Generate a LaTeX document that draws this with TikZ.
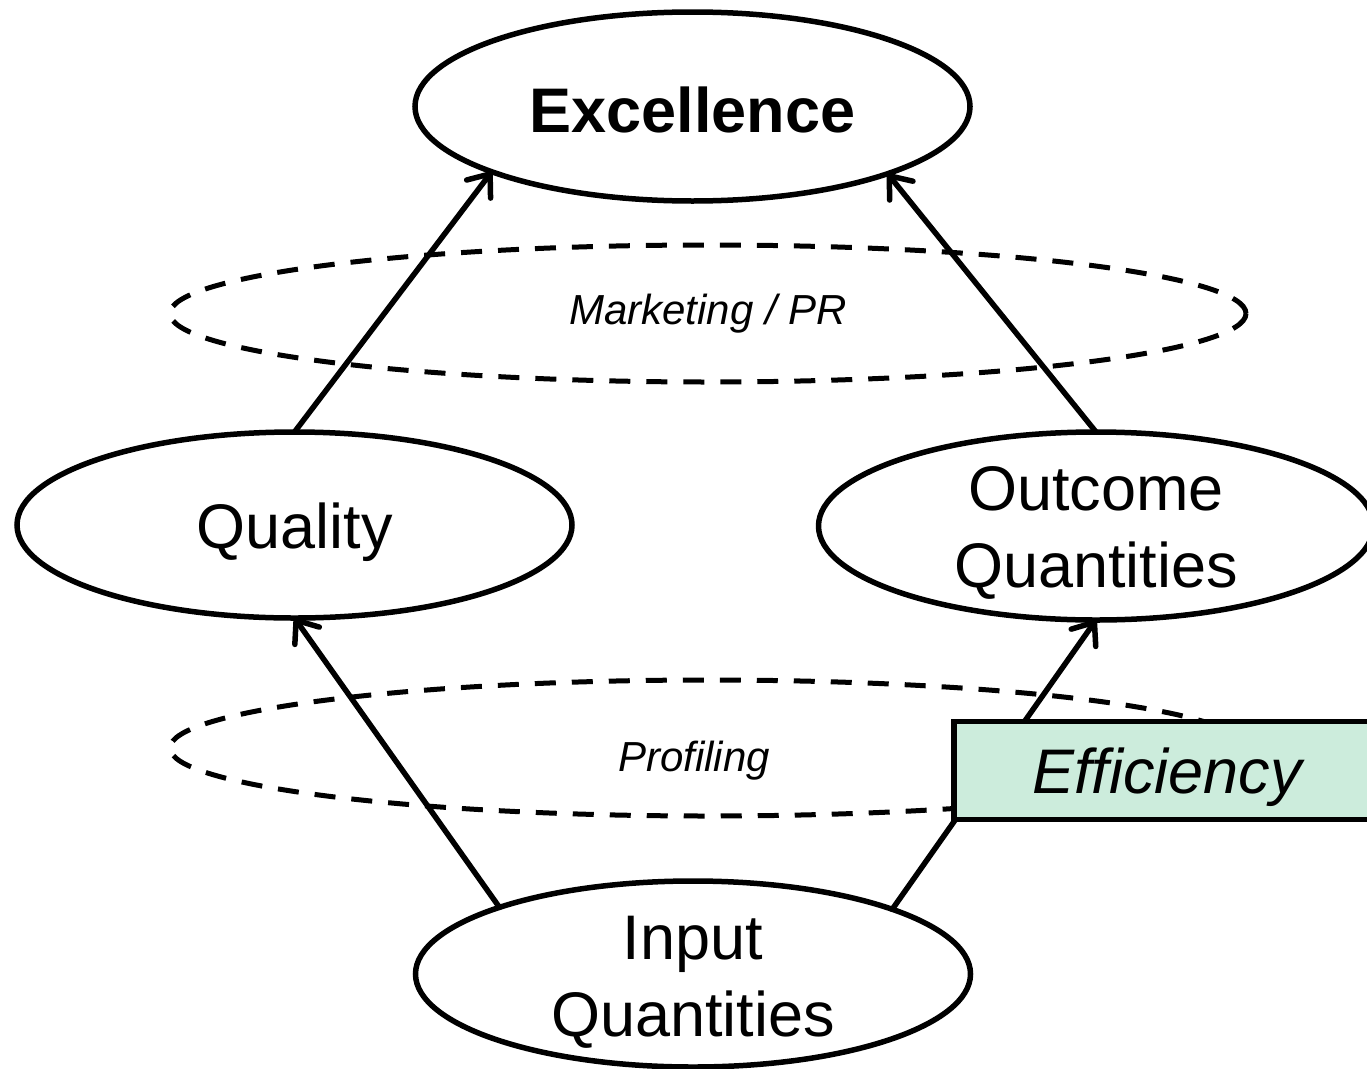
\documentclass[tikz,border=0pt]{standalone}
\usepackage{fontspec}
\setmainfont{Liberation Sans}
\usetikzlibrary{shapes.geometric,arrows.meta}
\definecolor{effgreen}{HTML}{CCECDC}
\tikzset{
  oval/.style={ellipse, draw, line width=5.5pt, inner sep=0pt, outer sep=0pt,
    minimum width=555pt},
  ovaltext/.style={font=\fontsize{63}{77}\selectfont, align=center, inner sep=0pt},
  dashoval/.style={ellipse, draw, line width=5pt, inner sep=0pt, outer sep=0pt,
    dash pattern=on 21pt off 16pt},
  smalllabel/.style={font=\fontsize{42}{50}\selectfont\itshape, anchor=base, inner sep=0pt},
  arr/.style={line width=5.5pt, line cap=round,
    -{Straight Barb[length=19pt,width=30pt,line cap=round,line join=round]}},
  effbox/.style={rectangle, draw, line width=5.5pt, fill=effgreen, outer sep=0pt,
    minimum width=426pt, minimum height=98pt, text height=46pt, text depth=1pt,
    font=\fontsize{63}{77}\selectfont\itshape}
}
\begin{document}
\begin{tikzpicture}[x=1pt,y=-1pt]
\clip (0,0) rectangle (1367,1068);
\fill[white] (0,0) rectangle (1367,1068);
% dashed ellipses
\node[dashoval, minimum width=1076pt, minimum height=137pt] (mkt) at (708,313.5) {};
\node[dashoval, minimum width=1076pt, minimum height=136pt] (prof) at (708,748) {};
\node[smalllabel] (mkttext) at (708,324) {Marketing / PR};
\node[smalllabel] (proftext) at (694,771) {Profiling};
% main ellipses
\node[oval, minimum height=189pt,
  label={[ovaltext, font=\fontsize{63}{77}\selectfont\bfseries, yshift=-3pt]center:Excellence}] (exc) at (692.5,106.5) {};
\node[oval, minimum height=186pt,
  label={[ovaltext, yshift=-7pt]center:Quality}] (qual) at (294.5,525) {};
\node[oval, minimum height=188pt,
  label={[ovaltext, yshift=-7pt]center:{Outcome\\Quantities}}] (out) at (1096,526) {};
\node[oval, minimum height=186pt,
  label={[ovaltext, yshift=-8pt]center:{Input\\Quantities}}] (inp) at (693,974) {};
% arrows
\draw[arr] (qual.north) -- (exc.198.7);
\draw[arr] (out.north) -- (exc.341.5);
\draw[arr] (inp.161.3) -- (qual.south);
\draw[arr] (inp.18.9) -- (out.south);
% efficiency box
\node[effbox] (eff) at (1167,770.5) {Efficiency};
\end{tikzpicture}
\end{document}
